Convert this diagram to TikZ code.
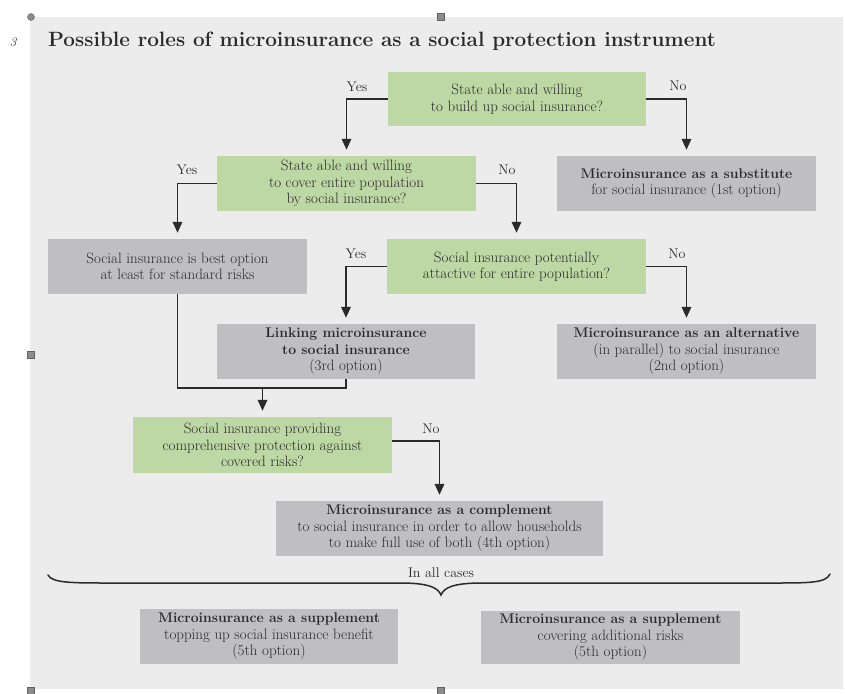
\documentclass[tikz,border=0pt]{standalone}
\usetikzlibrary{arrows.meta}
\definecolor{bgc}{HTML}{ECECEC}
\definecolor{grn}{HTML}{BED8A5}
\definecolor{gry}{HTML}{BFBFC1}
\definecolor{ink}{HTML}{2A2A2A}
\definecolor{hnd}{HTML}{8C8C8C}
\newcommand{\bxt}[1]{{\fontsize{14}{16.5}\selectfont\bfseries #1}}
\begin{document}
\begin{tikzpicture}[x=1pt,y=-1pt,
  box/.style={inner sep=0pt, minimum width=259pt, minimum height=55pt, align=center, text=ink, font=\fontsize{15}{16.5}\selectfont},
  qbox/.style={box, fill=grn},
  obox/.style={box, fill=gry},
  lbl/.style={text=ink, font=\fontsize{14}{16}\selectfont, inner sep=0pt},
  arr/.style={draw=ink, line width=1.8pt, -{Triangle[length=11pt,width=9.5pt]}, shorten >=6pt},
  lnk/.style={draw=ink, line width=1.8pt},
  handle/.style={fill=hnd, draw=hnd!70!black, line width=0.4pt, minimum size=7pt, inner sep=0pt}]

\useasboundingbox (0,0) rectangle (845,693);
\fill[bgc] (30,17) rectangle (843,689);

% handles
\node[handle, circle] (h1) at (31,17) {};
\node[handle] (h2) at (441,17) {};
\node[handle] (h3) at (31,355) {};
\node[handle] (h4) at (31,691) {};
\node[handle] (h5) at (441,691) {};

% number and title
\node[anchor=base, text=ink, font=\itshape\fontsize{13}{15}\selectfont] (num) at (13,46) {3};
\node[anchor=base west, text=ink, font=\fontsize{20.7}{24}\selectfont\bfseries, inner sep=0pt] (title) at (48,46) {Possible roles of microinsurance as a social protection instrument};

% boxes
\node[qbox, minimum width=258pt, minimum height=54pt] (A) at (517,99) {State able and willing\\to build up social insurance?};
\node[obox] (B) at (686.5,183.5) {\bxt{Microinsurance as a substitute}\\for social insurance (1st option)};
\node[qbox] (C) at (346.5,183.5) {State able and willing\\to cover entire population\\by social insurance?};
\node[obox] (D) at (177.5,266.5) {Social insurance is best option\\at least for standard risks};
\node[qbox] (E) at (516.5,266.5) {Social insurance potentially\\attactive for entire population?};
\node[obox, minimum width=258pt] (F) at (346,351.5) {\bxt{Linking microinsurance}\\\bxt{to social insurance}\\(3rd option)};
\node[obox] (G) at (686.5,351.5) {\bxt{Microinsurance as an alternative}\\(in parallel) to social insurance\\(2nd option)};
\node[qbox, minimum height=56pt] (H) at (262.5,445) {Social insurance providing\\comprehensive protection against\\covered risks?};
\node[obox, minimum width=327pt] (I) at (439.5,528.5) {\bxt{Microinsurance as a complement}\\to social insurance in order to allow households\\to make full use of both (4th option)};
\node[obox, minimum width=258pt] (J) at (269,636.5) {\bxt{Microinsurance as a supplement}\\topping up social insurance benefit\\(5th option)};
\node[obox, minimum height=53pt] (K) at (610.5,637.5) {\bxt{Microinsurance as a supplement}\\covering additional risks\\(5th option)};

% labels
\node[lbl] (y1) at (357,87) {Yes};
\node[lbl] (n1) at (678,86) {No};
\node[lbl] (y2) at (187,170) {Yes};
\node[lbl] (n2) at (507,170) {No};
\node[lbl] (y3) at (356,254) {Yes};
\node[lbl] (n3) at (677,254) {No};
\node[lbl] (n4) at (431,429) {No};

% connectors
\draw[arr] (A.west) -| (C.north);
\draw[arr] (A.east) -| (B.north);
\draw[arr] (C.west) -| (D.north);
\draw[arr] (C.east) -| (E.north);
\draw[arr] (E.west) -| (F.north);
\draw[arr] (E.east) -| (G.north);
\draw[arr] ([yshift=4pt]H.east) -| (I.north);

\coordinate (jy) at (0,388);
\draw[lnk] (D.south) -- (D.south |- jy) -- (F.south |- jy) -- (F.south);
\draw[arr] (H.north |- jy) -- (H.north);

% brace
\draw[ink, line width=1.5pt, line cap=round]
  (48,575) .. controls (52,583) and (72,583) .. (110,583) -- (400,583)
  .. controls (430,583) and (438,588) .. (441,595)
  .. controls (444,588) and (452,583) .. (482,583) -- (772,583)
  .. controls (810,583) and (826,583) .. (830,574);
\node[lbl] (all) at (441,573) {In all cases};
\end{tikzpicture}
\end{document}
